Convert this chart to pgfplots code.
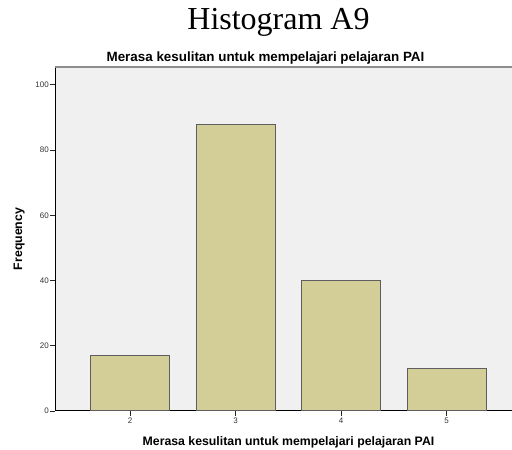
\documentclass[border=0pt]{standalone}
\usepackage{fontspec}
\setmainfont{Liberation Sans}
\newfontfamily\timesfont{Liberation Serif}
\usepackage{pgfplots}
\pgfplotsset{compat=1.18}
\definecolor{bgc}{HTML}{F0F0F0}
\definecolor{barc}{HTML}{D3CE97}
\definecolor{edgec}{HTML}{5E5E5E}
\definecolor{topc}{HTML}{8C8C8C}
\begin{document}
\begin{tikzpicture}[x=1pt,y=1pt]
\begin{axis}[
  name=ax, at={(0,0)}, anchor=south west,
  scale only axis, width=466.7pt, height=344pt,
  xmin=1.289, xmax=5.711, ymin=0, ymax=105.5,
  axis x line*=bottom, axis y line*=left,
  axis line style={black, line width=1pt},
  axis background/.style={fill=bgc},
  xtick={2,3,4,5}, ytick={0,20,40,60,80,100},
  tick align=outside, major tick length=5pt,
  tick style={black!85, line width=0.9pt},
  ticklabel style={font=\fontsize{8}{9}\selectfont, text=black!80},
  /pgf/number format/assume math mode=true,
  xticklabel style={inner sep=1.5pt},
  yticklabel style={inner sep=1pt},
  clip=false,
]
\addplot[ybar, bar width=0.75, fill=barc, draw=edgec, line width=1pt] coordinates {(2,17) (3,88) (4,40) (5,13)};
\end{axis}
\draw[topc, line width=1.2pt] (ax.north west) -- (ax.north east);
\node[anchor=base, font=\timesfont\fontsize{32}{36}\selectfont] at (223.5,381) {Histogram A9};
\node[anchor=base, font=\bfseries\fontsize{13.4}{15}\selectfont] at (210.5,349) {Merasa kesulitan untuk mempelajari pelajaran PAI};
\node[anchor=base, font=\bfseries\fontsize{12.3}{14}\selectfont] at (233.5,-35) {Merasa kesulitan untuk mempelajari pelajaran PAI};
\node[rotate=90, anchor=base, font=\bfseries\fontsize{12.3}{14}\selectfont] at (-33,172) {Frequency};
\pgfresetboundingbox
\path[use as bounding box] (-55,-39) rectangle (457,411);
\end{tikzpicture}
\end{document}
